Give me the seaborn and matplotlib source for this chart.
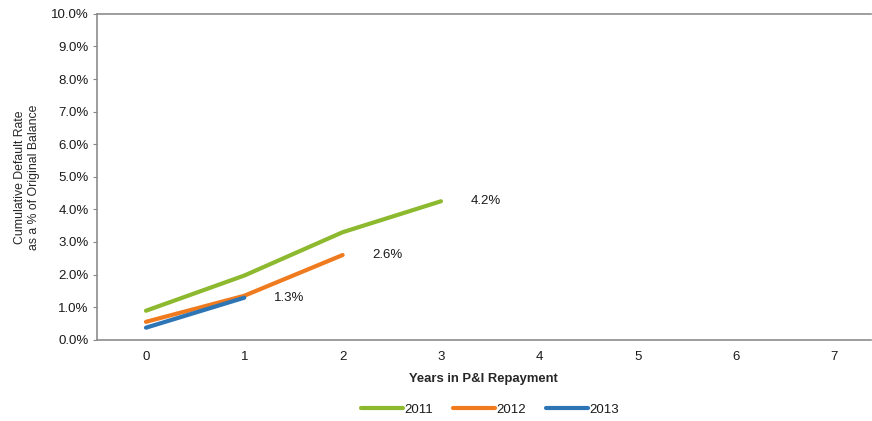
import pandas as pd
import seaborn as sns
import matplotlib.pyplot as plt
from matplotlib.ticker import PercentFormatter

years = [0, 1, 2, 3, 4, 5, 6, 7]
rate_2011 = [0.89, 1.97, 3.3, 4.25]
rate_2012 = [0.55, 1.35, 2.6]
rate_2013 = [0.37, 1.29]
end_labels = ["4.2%", "2.6%", "1.3%"]

series = {"2011": rate_2011, "2012": rate_2012, "2013": rate_2013}
colores = {"2011": "#8db92e", "2012": "#f07b1f", "2013": "#2e75b6"}

filas = []
for nombre, vals in series.items():
    for i, v in enumerate(vals):
        filas.append({"Anio": nombre, "Year": years[i], "Rate": v})
df = pd.DataFrame(filas)

sns.set_style("white")
plt.rcParams["font.family"] = ["Liberation Sans", "DejaVu Sans"]
plt.rcParams["text.color"] = "#1a1a1a"

fig, ax = plt.subplots(figsize=(8.72, 4.21), dpi=100)
fig.subplots_adjust(left=0.111, right=0.9985, top=0.967, bottom=0.193)

sns.lineplot(data=df, x="Year", y="Rate", hue="Anio", palette=colores,
             linewidth=3, ax=ax, legend=True)

# etiquetas al final de cada serie
for (nombre, vals), txt in zip(series.items(), end_labels):
    ax.text(len(vals) - 1 + 0.3, vals[-1], txt, fontsize=9.5, va="center", color="#1a1a1a")

ax.set_xlim(-0.5, 7.37)
ax.set_ylim(0, 10)
ax.set_xticks(years)
ax.set_xticklabels([str(y) for y in years], fontsize=9.5, color="#1a1a1a")
ax.set_yticks(range(0, 11))
ax.yaxis.set_major_formatter(PercentFormatter(decimals=1))
ax.tick_params(axis="y", labelsize=9.5, labelcolor="#1a1a1a", length=3, color="#888888",
               pad=3, direction="out", left=True)
ax.tick_params(axis="x", length=0, pad=8)

for lado in ["left", "bottom", "top"]:
    ax.spines[lado].set_color("#8c8c8c")
    ax.spines[lado].set_linewidth(1.2)
ax.spines["right"].set_visible(False)

ax.set_xlabel("Years in P&I Repayment", fontsize=9.4, fontweight="bold", labelpad=7)
ax.set_ylabel("Cumulative Default Rate\nas a % of Original Balance", fontsize=8.8, labelpad=8)

ax.legend(loc="upper center", bbox_to_anchor=(0.508, -0.16), ncol=3, frameon=False,
          fontsize=9.5, handlelength=3.2, columnspacing=1.5, handletextpad=0.1)

plt.savefig("out.png", dpi=100)
